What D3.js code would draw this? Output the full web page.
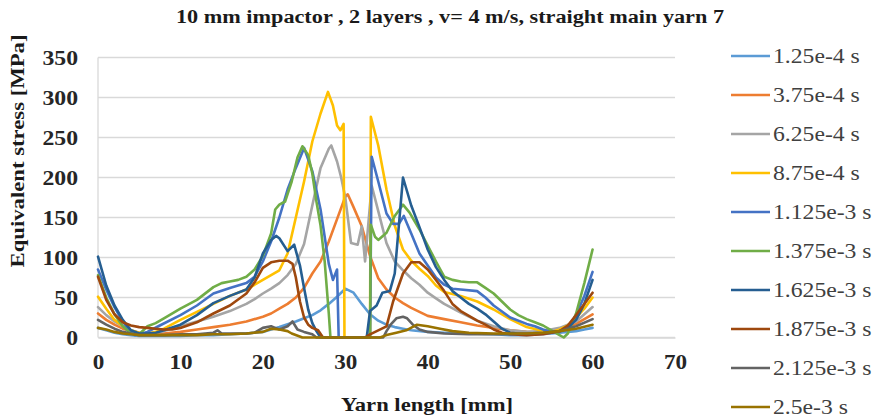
<!DOCTYPE html>
<html>
<head>
<meta charset="utf-8">
<script src="https://cdn.jsdelivr.net/npm/d3@7"></script>
<style>
  html, body { margin: 0; padding: 0; background: #fff; }
  svg { display: block; }
</style>
</head>
<body>
<svg id="chart" width="874" height="418"></svg>
<script>
// Equivalent stress along the main yarn at successive time steps
const seriesNames = ["1.25e-4 s", "3.75e-4 s", "6.25e-4 s", "8.75e-4 s", "1.125e-3 s",
                     "1.375e-3 s", "1.625e-3 s", "1.875e-3 s", "2.125e-3 s", "2.5e-3 s"];
const seriesColors = ["#5B9BD5", "#ED7D31", "#A5A5A5", "#FFC000", "#4472C4",
                      "#70AD47", "#255E91", "#9E480E", "#636363", "#997300"];

// [yarn length mm, stress MPa]
const t1 = [[0,12],[1,9],[2,6],[3,4],[4,3],[5,2],[6,2],[8,2],[10,2],[12,3],[14,3],[16,4],[18,5],[20,7],[22,13],[24,20],[25,24],[26,28],[27,34],[28,42],[29,51],[30,61],[31,56],[32,42],[33,29],[34,21],[35,16],[36,13],[37,11],[38,9],[40,7],[42,6],[45,5],[48,4],[50,3],[52,3],[55,5],[57,7],[58,8],[59,10],[60,12]];
const t2 = [[0,30],[1,22],[2,16],[3,11],[4,8],[5,6],[6,5],[7,5],[8,5],[10,7],[12,10],[14,13],[16,16],[18,20],[20,26],[21,30],[22,36],[23,42],[24,50],[25,62],[26,80],[27,95],[28,120],[29,148],[30,176],[30.3,179],[31,163],[32,139],[33,102],[34,74],[35,60],[36,50],[37,43],[38,37],[39,32],[40,27],[42,23],[44,19],[46,15],[48,12],[50,9],[52,7],[54,6],[56,9],[58,17],[60,29]];
const t3 = [[0,38],[1,28],[2,20],[3,14],[4,9],[5,6],[6,5],[7,6],[8,8],[10,14],[12,20],[14,26],[16,33],[18,42],[19,48],[20,55],[21,61],[22,68],[23,78],[24,92],[25,117],[26,165],[27,212],[28,236],[28.3,240],[29,220],[29.5,200],[30,175],[30.7,118],[31.5,116],[32,139],[32.4,95],[33.2,190],[34,158],[35,118],[36,95],[37,84],[38,74],[39,66],[40,56],[41,49],[42,42],[44,31],[46,21],[48,14],[50,9],[52,7],[54,8],[56,12],[58,20],[60,38]];
const t4 = [[0,51],[1,36],[2,22],[3,14],[4,9],[5,6],[6,5],[7,7],[8,11],[10,22],[12,32],[14,42],[15,47],[16,52],[18,60],[20,72],[21,78],[22,84],[23,105],[24,150],[25,195],[26,245],[27,280],[27.9,307],[28.5,290],[29,265],[29.4,259],[29.8,267],[29.9,0],[33,0],[33.1,276],[34,240],[35,185],[36,140],[37,110],[38,96],[39,86],[40,77],[41,65],[42,57],[44,52],[46,45],[48,35],[50,23],[52,13],[54,8],[55,7],[56,10],[57,15],[58,25],[59,36],[60,50]];
const t5 = [[0,85],[1,60],[2,38],[3,20],[4,6],[4.5,3],[6,7],[7.5,15],[10,28],[12,40],[14,55],[16,62],[18,68],[19,76],[20,95],[21,120],[22,150],[23,185],[24,212],[25,237],[26,208],[27,160],[28,92],[28.5,72],[29,85],[29.2,0],[33,0],[33.2,226],[34,195],[35,155],[35.8,142],[36.5,142],[37.1,152],[38,130],[39,105],[40,90],[41,75],[42,66],[43,61],[44,60],[46,58],[47,50],[48,40],[50,25],[52,17],[53,14],[54,10],[55,7],[56,7],[57,12],[58,28],[59,52],[60,82]];
const t6 = [[0,78],[1,50],[2,29],[3,14],[4,5],[5,4],[6,14],[7,18],[8,24],[10,36],[12,47],[14,63],[15,68],[16,70],[17,72],[18,76],[19,85],[20,102],[21,130],[21.5,160],[22,166],[22.7,170],[23.5,195],[24.2,225],[24.8,239],[25.5,228],[26,205],[26.5,170],[27,140],[27.5,95],[28,30],[28.2,0],[33,0],[33.1,141],[33.6,126],[34,122],[35,131],[36,152],[37,166],[37.8,156],[39,135],[40,115],[41,95],[42,76],[43,72],[44,70],[45,69],[46,69],[47,62],[48,55],[49,45],[50,35],[51,28],[52,23],[53,19],[54,15],[55,9],[56,3],[56.5,0],[57,5],[58,30],[59,68],[60,110]];
const t7 = [[0,101],[1,65],[2,40],[3,22],[4,9],[5,5],[6,5],[7,6],[8,9],[10,16],[12,28],[14,43],[16,52],[18,60],[19,75],[20,105],[21,122],[21.6,127],[22,124],[23,108],[23.8,116],[24.5,90],[25,62],[25.5,35],[26,18],[26.5,8],[27,0],[32.6,0],[33,33],[33.8,40],[34.5,56],[35.4,58],[36,80],[37,200],[38,165],[39,138],[40,110],[41,88],[42,72],[43,58],[44,50],[45,42],[46,36],[47,29],[48,20],[49,11],[50,6],[52,4],[54,5],[56,8],[57,12],[58,22],[59,42],[60,72]];
const t8 = [[0,76],[1,47],[2,29],[3,19],[4,15],[5,13],[6,12],[7,11],[8,10],[9,10],[10,12],[12,19],[14,30],[16,40],[18,55],[19,69],[20,87],[21,94],[22,96],[23,96],[23.6,92],[24,75],[24.5,45],[25,25],[25.5,16],[26,12],[26.7,9],[27.3,0],[32.4,0],[33,4],[34,9],[35,14],[35.8,45],[37,80],[38,94],[39,94],[40,85],[41,72],[42,58],[43,42],[44,33],[45,27],[46,21],[47,16],[48,10],[49,6],[50,4],[52,3],[54,4],[56,8],[57,15],[58,28],[59,42],[60,56]];
const t9 = [[0,22],[1,16],[2,11],[3,7],[4,5],[5,3],[6,3],[8,3],[10,4],[12,4],[14,6],[14.5,9],[15,5],[16,5],[18,5],[19,6],[20,12],[21,14],[21.5,12],[22,10],[23,14],[23.6,20],[24.2,10],[25,7],[26,4],[26.5,0],[34.6,0],[35,8],[35.5,16],[36.2,24],[37,26],[37.5,24],[38.2,16],[39,10],[40,7],[42,5],[45,4],[48,4],[50,4],[52,5],[54,6],[56,8],[58,14],[60,23]];
const t10 = [[0,12],[1,10],[2,7],[3,5],[4,4],[5,3],[6,3],[8,3],[10,3],[12,3],[14,4],[16,4],[18,5],[20,7],[21,11],[22,10],[23,8],[23.5,5],[24.8,0],[34.2,0],[35,3],[36.2,6],[37.4,9],[38.7,16],[40,14],[41.5,11],[43,8],[45,6],[48,5],[50,5],[52,5],[54,6],[56,8],[58,11],[60,16]];
const seriesData = [t1, t2, t3, t4, t5, t6, t7, t8, t9, t10];

const xTicks = [0, 10, 20, 30, 40, 50, 60, 70];
const yTicks = [0, 50, 100, 150, 200, 250, 300, 350];

const svg = d3.select("#chart");
const serif = "'Liberation Serif', 'Times New Roman', serif";

// widen text horizontally by factor k, keeping its anchor
function stretch(sel, k) {
  sel.each(function () {
    const len = this.getComputedTextLength();
    d3.select(this).attr("textLength", len * k).attr("lengthAdjust", "spacingAndGlyphs");
  });
}

const x = d3.scaleLinear().domain([0, 70]).range([98, 675]);
const y = d3.scaleLinear().domain([0, 350]).range([337.5, 57.5]);

// horizontal gridlines
svg.append("g")
  .selectAll("line")
  .data(yTicks)
  .join("line")
  .attr("x1", x(0)).attr("x2", x(70))
  .attr("y1", d => y(d)).attr("y2", d => y(d))
  .attr("stroke", "#d9d9d9").attr("stroke-width", 1.3);

// left axis line
svg.append("line")
  .attr("x1", x(0)).attr("x2", x(0))
  .attr("y1", y(0)).attr("y2", y(350))
  .attr("stroke", "#d9d9d9").attr("stroke-width", 1.3);

// axes (labels only)
const yAxis = d3.axisLeft(y).tickValues(yTicks).tickSize(0).tickPadding(20);
svg.append("g")
  .attr("transform", `translate(${x(0)},0)`)
  .call(yAxis)
  .call(g => g.select(".domain").remove())
  .selectAll("text")
  .attr("font-family", serif).attr("font-weight", "bold")
  .attr("font-size", 21).attr("fill", "#262626")
  .call(stretch, 1.13);

const xAxis = d3.axisBottom(x).tickValues(xTicks).tickSize(0).tickPadding(17);
svg.append("g")
  .attr("transform", `translate(0,${y(0)})`)
  .call(xAxis)
  .call(g => g.select(".domain").attr("stroke", "#d9d9d9").attr("stroke-width", 1.3))
  .selectAll("text")
  .attr("font-family", serif).attr("font-weight", "bold")
  .attr("font-size", 21).attr("fill", "#262626")
  .call(stretch, 1.1);

// series lines
const line = d3.line().x(d => x(d[0])).y(d => y(d[1]));
svg.append("g")
  .selectAll("path")
  .data(seriesData)
  .join("path")
  .attr("d", line)
  .attr("fill", "none")
  .attr("stroke", (d, i) => seriesColors[i])
  .attr("stroke-width", 2.6)
  .attr("stroke-linejoin", "round")
  .attr("stroke-linecap", "round");

// title
svg.append("text")
  .attr("x", 450).attr("y", 23)
  .attr("text-anchor", "middle")
  .attr("font-family", serif).attr("font-weight", "bold").attr("font-size", 18.5)
  .attr("fill", "#1a1a1a")
  .attr("textLength", 548).attr("lengthAdjust", "spacingAndGlyphs")
  .text("10 mm impactor , 2 layers , v= 4 m/s, straight main yarn 7");

// axis titles
svg.append("text")
  .attr("transform", "translate(24,151) rotate(-90)")
  .attr("text-anchor", "middle")
  .attr("font-family", serif).attr("font-weight", "bold").attr("font-size", 19.5)
  .attr("fill", "#1a1a1a")
  .attr("textLength", 233).attr("lengthAdjust", "spacingAndGlyphs")
  .text("Equivalent stress [MPa]");

svg.append("text")
  .attr("x", 427).attr("y", 411)
  .attr("text-anchor", "middle")
  .attr("font-family", serif).attr("font-weight", "bold").attr("font-size", 19.5)
  .attr("fill", "#1a1a1a")
  .attr("textLength", 172).attr("lengthAdjust", "spacingAndGlyphs")
  .text("Yarn length [mm]");

// legend
const legend = svg.append("g")
  .selectAll("g")
  .data(seriesNames)
  .join("g")
  .attr("transform", (d, i) => `translate(731,${56 + i * 39})`);
legend.append("line")
  .attr("x1", 0).attr("x2", 39)
  .attr("stroke", (d, i) => seriesColors[i])
  .attr("stroke-width", 2.6);
legend.append("text")
  .attr("x", 42).attr("y", 7)
  .attr("font-family", serif).attr("font-size", 21.5)
  .attr("fill", "#404040")
  .text(d => d)
  .call(stretch, 1.1);
</script>
</body>
</html>
